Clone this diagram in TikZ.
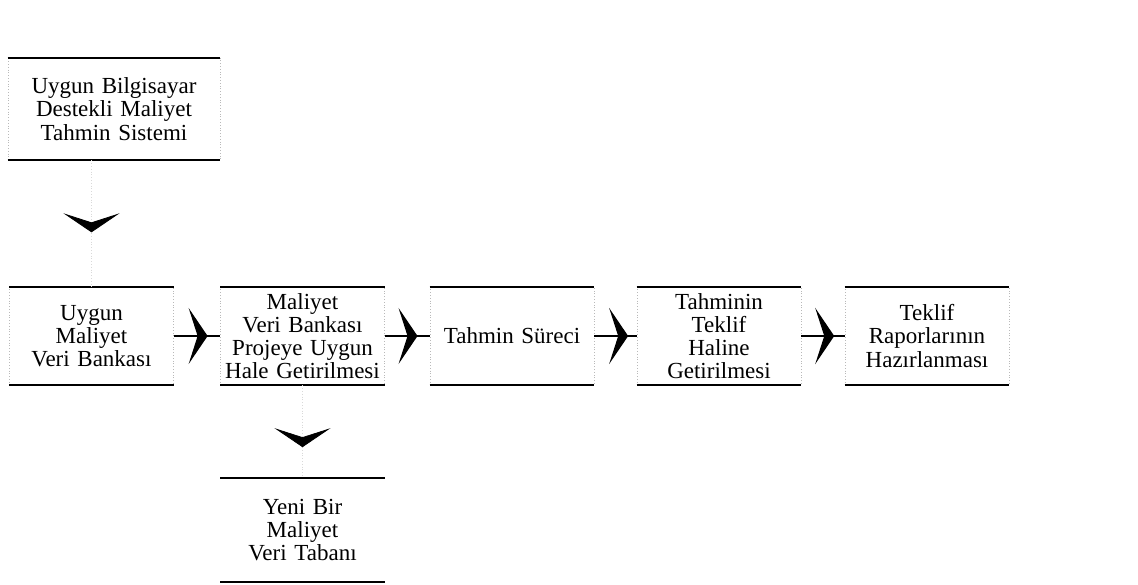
\documentclass[tikz,border=0pt]{standalone}
\usepackage{fontspec}
\setmainfont{Liberation Serif}
\usetikzlibrary{arrows.meta,decorations.markings}

\begin{document}
\begin{tikzpicture}[
        x=0.5pt, y=-0.5pt,
        every node/.style={font=\fontsize{11.5}{11.6}\selectfont},
        stage/.style={rectangle, draw=gray!55, densely dotted, thin, align=center, inner sep=1pt, text width=80pt, minimum height=49pt},
        rule/.style={draw=black, line width=1pt},
        link/.style={draw=black, line width=0.6pt},
        trace/.style={draw=gray!30, densely dotted, thin},
        chev/.style={postaction={decorate}, decoration={markings, mark=at position #1 with {\arrow[black, solid]{Stealth[length=9.5pt, width=28pt, inset=4.5pt]}}}}
        ]

        % page frame of the scan
        \useasboundingbox (0,0) rectangle (1138,584);

        % Boxes placed at scan coordinates
        \node[stage, text width=104pt, minimum height=51pt] (sys) at (114, 109) {Uygun Bilgisayar\\Destekli Maliyet\\Tahmin Sistemi};
        \node[stage] (bank) at (91.5, 336) {Uygun\\Maliyet\\Veri Bankası};
        \node[stage] (adapt) at (302.5, 336) {Maliyet\\Veri Bankası\\Projeye Uygun\\Hale Getirilmesi};
        \node[stage] (proc) at (512, 336) {Tahmin Süreci};
        \node[stage] (offer) at (719, 336) {Tahminin\\Teklif\\Haline\\Getirilmesi};
        \node[stage] (report) at (927, 336) {Teklif\\Raporlarının\\Hazırlanması};
        \node[stage, draw=none, minimum height=52pt] (newdb) at (302.5, 530) {Yeni Bir\\Maliyet\\Veri Tabanı};

        % heavy top and bottom edges of every box
        \foreach \n in {sys,bank,adapt,proc,offer,report,newdb}
            \draw[rule] (\n.north west) -- (\n.north east) (\n.south west) -- (\n.south east);

        % Flow along the row
        \draw[link, chev=0.73] (bank) -- (adapt);
        \draw[link, chev=0.73] (adapt) -- (proc);
        \draw[link, chev=0.8] (proc) -- (offer);
        \draw[link, chev=0.76] (offer) -- (report);

        % Downward flows
        \draw[trace, chev=0.57] (sys.south -| bank) -- (bank);
        \draw[trace, chev=0.67] (adapt) -- (newdb);

    \end{tikzpicture}
\end{document}
